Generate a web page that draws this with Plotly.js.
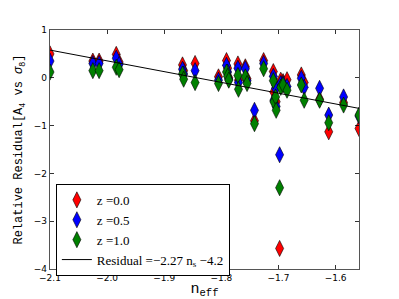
<!DOCTYPE html>
<html>
<head>
<meta charset="utf-8">
<script src="https://cdn.plot.ly/plotly-3.0.1.min.js"></script>
<style>html,body{margin:0;padding:0;background:#fff;}#chart{width:399px;height:299px;}</style>
</head>
<body>
<div id="chart"></div>
<script>
// n_eff positions (shared by the three redshift series)
const nEff = [-2.100, -2.025, -2.014, -1.984, -1.979, -1.868, -1.866, -1.846,
  -1.805, -1.791, -1.789, -1.787, -1.771, -1.770, -1.758, -1.755, -1.742,
  -1.726, -1.709, -1.708, -1.705, -1.704, -1.698, -1.696, -1.692, -1.685,
  -1.660, -1.655, -1.628, -1.612, -1.586, -1.559];
const resZ00 = [0.50, 0.35, 0.35, 0.49, 0.33, 0.27, 0.15, 0.30,
  0.02, 0.36, 0.20, 0.00, 0.29, -0.05, 0.23, -0.02, -0.90,
  0.36, 0.13, -0.30, -0.15, -0.50, -3.57, -0.05, -0.08, -0.04,
  0.06, -0.10, -0.45, -1.13, -0.52, -1.06];
const resZ05 = [0.35, 0.30, 0.30, 0.41, 0.28, 0.18, 0.08, 0.15,
  -0.05, 0.26, 0.12, -0.03, 0.20, -0.10, 0.19, -0.06, -0.68,
  0.30, 0.03, -0.47, -0.22, -0.60, -1.61, -0.12, -0.12, -0.18,
  -0.01, -0.20, -0.22, -0.78, -0.40, -0.80];
const resZ10 = [0.12, 0.15, 0.15, 0.22, 0.17, 0.08, -0.03, -0.10,
  -0.12, 0.12, 0.03, -0.05, 0.05, -0.24, 0.02, -0.12, -0.96,
  0.19, -0.06, -0.50, -0.40, -0.68, -2.30, -0.20, -0.15, -0.26,
  -0.15, -0.47, -0.47, -0.94, -0.57, -0.78];
const fitX = [-2.100, -1.559];
const fitY = [0.58, -0.64];
const xTicks = [-2.1, -2.0, -1.9, -1.8, -1.7, -1.6];
const yTicks = [-4, -3, -2, -1, 0, 1];

const serif = "Liberation Serif, DejaVu Serif, serif";
const mono = "Liberation Mono, DejaVu Sans Mono, monospace";

function pts(y, color, name) {
  return {
    x: nEff, y: y, type: 'scatter', mode: 'markers', name: name,
    marker: {symbol: 'diamond-tall', size: 11.5, color: color, line: {color: '#000', width: 0.6}},
    cliponaxis: true
  };
}
const data = [
  pts(resZ00, '#ff0000', 'z =0.0'),
  pts(resZ05, '#0000ff', 'z =0.5'),
  pts(resZ10, '#008000', 'z =1.0'),
  {x: fitX, y: fitY, type: 'scatter', mode: 'lines', name: 'Residual =\u22122.27 n<sub>s</sub> \u22124.2',
   line: {color: '#000', width: 1}}
];
const axisCommon = {
  showgrid: false, zeroline: false, showline: true, linecolor: '#555', linewidth: 1.2,
  mirror: 'allticks', ticks: 'inside', ticklen: 4, tickcolor: '#000', tickwidth: 0.8,
  tickfont: {family: 'DejaVu Sans, sans-serif', size: 9, color: '#000'}
};
const layout = {
  width: 399, height: 299,
  margin: {l: 50, r: 40, t: 30, b: 30},
  paper_bgcolor: '#fff', plot_bgcolor: '#fff',
  showlegend: true,
  legend: {x: 0.019, y: 0.356, xanchor: 'left', yanchor: 'top',
    bordercolor: '#000', borderwidth: 1, bgcolor: '#fff',
    font: {family: serif, size: 13, color: '#000'}, tracegroupgap: 0, itemwidth: 30},
  xaxis: Object.assign({}, axisCommon, {
    range: [-2.1, -1.559], tickvals: xTicks, ticktext: xTicks.map(v => (v < 0 ? '\u2212' : '') + Math.abs(v).toFixed(1)),
    title: {text: 'n<sub>eff</sub>', font: {family: mono, size: 15, color: '#000'}, standoff: 6}
  }),
  yaxis: Object.assign({}, axisCommon, {
    range: [-4, 1], tickvals: yTicks, ticktext: yTicks.map(v => (v < 0 ? '\u2212' : '') + Math.abs(v)),
    title: {text: 'Relative Residual[A<sub>4</sub> vs <i>\u03c3</i><sub>8</sub>]', font: {family: mono, size: 12, color: '#000'}, standoff: 8}
  })
};
Plotly.newPlot('chart', data, layout, {staticPlot: true, displayModeBar: false});
</script>
</body>
</html>
